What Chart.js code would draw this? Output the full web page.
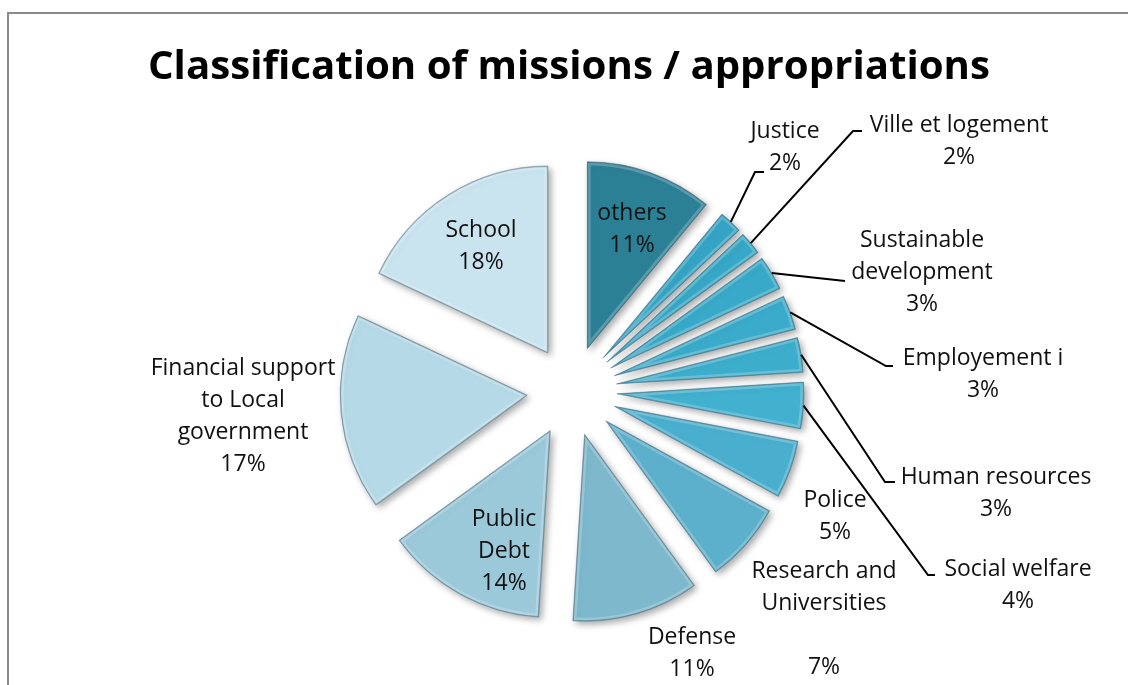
<!DOCTYPE html>
<html>
<head>
<meta charset="utf-8">
<script src="https://cdn.jsdelivr.net/npm/chart.js@4/dist/chart.umd.min.js"></script>
<style>
  html, body { margin: 0; padding: 0; background: #fff; overflow: hidden; }
  #frame { position: absolute; left: 7px; top: 12px; width: 1300px; height: 900px; border: 2px solid #8a8a8a; }
  #wrap { position: absolute; left: 0; top: 0; width: 1128px; height: 685px; }
</style>
</head>
<body>
<div id="frame"></div>
<div id="wrap"><canvas id="pie"></canvas></div>
<script>
// data
const categories = ['others', 'Justice', 'Ville et logement', 'Sustainable development', 'Employement i',
  'Human resources', 'Social welfare', 'Police', 'Research and Universities', 'Defense',
  'Public Debt', 'Financial support to Local government', 'School'];
const shares = [11, 2, 2, 3, 3, 3, 4, 5, 7, 11, 14, 17, 18];
const title = 'Classification of missions / appropriations';

// look
const sliceColors = ['#2b8096', '#35a4c4', '#36a7c6', '#38a9c8', '#3aabca', '#3caecc', '#42b0cf',
  '#4aafcf', '#5cb0cc', '#7db8cd', '#9cc9da', '#b5d9e6', '#c9e4ee'];
const EXPLODE = 45;
const fontLabel = "'Open Sans', sans-serif";

// label placement: x/y = centre of first text line, wrap = max line width, leader = bend + end points
const labelLayout = [
  { x: 632, y: 213, wrap: 100 },
  { x: 785, y: 131, wrap: 100, leader: [[755, 172], [764, 172]] },
  { x: 959, y: 125, wrap: 250, leader: [[853, 131], [862, 131]] },
  { x: 922, y: 240, wrap: 160, leader: [[845, 281], [845, 281]] },
  { x: 983, y: 358, wrap: 200, leader: [[886, 366], [893, 366]] },
  { x: 996, y: 477, wrap: 250, leader: [[885, 482], [895, 482]] },
  { x: 1018, y: 569, wrap: 250, leader: [[928, 575], [935, 575]] },
  { x: 835, y: 500, wrap: 100 },
  { x: 824, y: 571, wrap: 150, gap: 1 },
  { x: 692, y: 637, wrap: 120 },
  { x: 504, y: 519, wrap: 60 },
  { x: 243, y: 368, wrap: 195 },
  { x: 481, y: 230, wrap: 100 }
];
const LINE_H = 32;

function wrapText(ctx, text, maxW) {
  const words = text.split(' ');
  const lines = [];
  let cur = '';
  words.forEach(w => {
    const t = cur ? cur + ' ' + w : w;
    if (cur && ctx.measureText(t).width > maxW) { lines.push(cur); cur = w; }
    else cur = t;
  });
  if (cur) lines.push(cur);
  return lines;
}

const explodePlugin = {
  id: 'explode',
  beforeDatasetDraw(chart, args) {
    const ctx = chart.ctx;
    args.meta.data.forEach(arc => {
      const mid = (arc.startAngle + arc.endAngle) / 2;
      ctx.save();
      ctx.translate(Math.cos(mid) * EXPLODE, Math.sin(mid) * EXPLODE);
      ctx.shadowColor = 'rgba(0,0,0,0.35)';
      ctx.shadowBlur = 7;
      ctx.shadowOffsetX = 3;
      ctx.shadowOffsetY = 3;
      arc.draw(ctx);
      ctx.restore();
      // soft bevel on the edges
      ctx.save();
      ctx.translate(Math.cos(mid) * EXPLODE, Math.sin(mid) * EXPLODE);
      ctx.beginPath();
      ctx.moveTo(arc.x, arc.y);
      ctx.arc(arc.x, arc.y, arc.outerRadius, arc.startAngle, arc.endAngle);
      ctx.closePath();
      ctx.clip();
      ctx.lineWidth = 7;
      ctx.strokeStyle = 'rgba(255,255,255,0.22)';
      ctx.stroke();
      ctx.lineWidth = 2;
      ctx.strokeStyle = 'rgba(0,40,60,0.25)';
      ctx.stroke();
      ctx.restore();
    });
    return false;
  },
  afterDraw(chart) {
    const ctx = chart.ctx;
    const arcs = chart.getDatasetMeta(0).data;
    // title
    ctx.save();
    ctx.font = "bold 40px 'Open Sans', sans-serif";
    const sx = 842 / ctx.measureText(title).width;
    ctx.translate(569, 79);
    ctx.scale(sx, 1);
    ctx.fillStyle = '#000';
    ctx.textAlign = 'center';
    ctx.fillText(title, 0, 0);
    ctx.restore();

    // labels + leaders
    ctx.save();
    ctx.font = '23px ' + fontLabel;
    ctx.fillStyle = '#111';
    ctx.textAlign = 'center';
    ctx.textBaseline = 'middle';
    categories.forEach((name, i) => {
      const L = labelLayout[i];
      const lines = wrapText(ctx, name, L.wrap);
      for (let g = 0; g < (L.gap || 0); g++) lines.push('');
      lines.push(shares[i] + '%');
      lines.forEach((t, k) => ctx.fillText(t, L.x, L.y + k * LINE_H));
      if (L.leader) {
        const arc = arcs[i];
        const mid = (arc.startAngle + arc.endAngle) / 2;
        const r = EXPLODE + arc.outerRadius;
        ctx.beginPath();
        ctx.moveTo(arc.x + Math.cos(mid) * r, arc.y + Math.sin(mid) * r);
        L.leader.forEach(p => ctx.lineTo(p[0], p[1]));
        ctx.lineWidth = 2;
        ctx.strokeStyle = '#000';
        ctx.stroke();
      }
    });
    ctx.restore();
  }
};

new Chart(document.getElementById('pie'), {
  type: 'pie',
  data: {
    labels: categories,
    datasets: [{
      data: shares,
      backgroundColor: sliceColors,
      borderColor: 'rgba(20,70,90,0.35)',
      borderWidth: 1,
      offset: 0
    }]
  },
  options: {
    responsive: true, maintainAspectRatio: false, animation: false,
    radius: 187,
    layout: { padding: { left: 16, right: 0, top: 97, bottom: 0 } },
    plugins: { legend: { display: false }, tooltip: { enabled: false }, title: { display: false } }
  },
  plugins: [explodePlugin]
});
</script>
</body>
</html>
